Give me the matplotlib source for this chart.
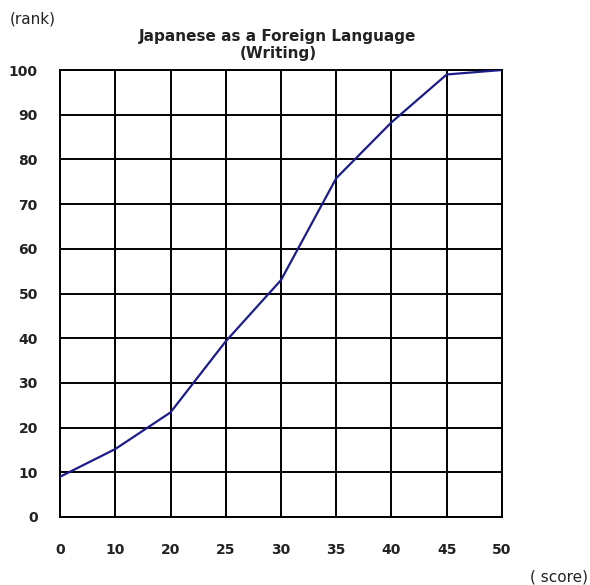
import matplotlib.pyplot as plt
import numpy as np

plt.rcParams['font.family'] = ['DejaVu Sans']

# data
scores = ['0', '10', '20', '25', '30', '35', '40', '45', '50']
rank = [9.0, 15.2, 23.4, 39.3, 53.0, 75.8, 88.3, 99.0, 100.0]
yticks = [0, 10, 20, 30, 40, 50, 60, 70, 80, 90, 100]

fig = plt.figure(figsize=(5.9, 5.85), dpi=100)
ax = fig.add_axes([60/590, 1-517/585, (502-60)/590, (517-70)/585])

xpos = np.arange(len(scores))
ax.plot(xpos, rank, color='#1c1c8a', lw=1.6, zorder=3)

ax.set_xlim(0, len(scores)-1)
ax.set_ylim(0, 100)
ax.set_xticks(xpos)
ax.set_xticklabels(scores)
ax.set_yticks(yticks)
ax.grid(True, color='black', lw=1.4)
for s in ax.spines.values():
    s.set_linewidth(1.4)
ax.tick_params(length=0, labelsize=10, colors='#222222')
ax.tick_params(axis='x', pad=19)
ax.tick_params(axis='y', pad=16)
for lab in ax.get_xticklabels() + ax.get_yticklabels():
    lab.set_fontweight('bold')

fig.text(278/590, 1-45/585, 'Japanese as a Foreign Language\n(Writing)',
         ha='center', va='center', fontsize=11, fontweight='bold',
         color='#222222', linespacing=1.15)
fig.text(10/590, 1-19/585, '(rank)', ha='left', va='center', fontsize=11, color='#222222')
fig.text(588/590, 1-577/585, '( score)', ha='right', va='center', fontsize=11, color='#222222')

fig.savefig('out.png', dpi=100)
